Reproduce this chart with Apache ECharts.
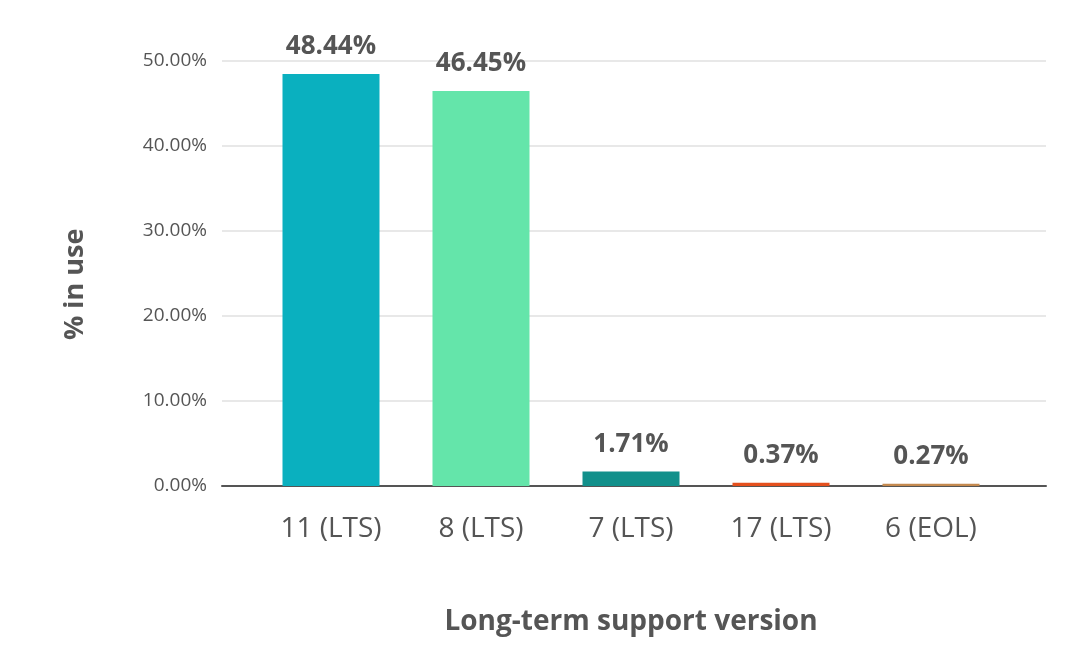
<!DOCTYPE html>
<html>
<head>
<meta charset="utf-8">
<script src="https://cdn.jsdelivr.net/npm/echarts@6/dist/echarts.min.js"></script>
<style>
  html, body { margin: 0; padding: 0; background: #fff; }
  #chart { width: 1077px; height: 661px; }
</style>
</head>
<body>
<div id="chart"></div>
<script>
// 版本与占比
const categories = ['11 (LTS)', '8 (LTS)', '7 (LTS)', '17 (LTS)', '6 (EOL)']
const shares = [48.44, 46.45, 1.71, 0.37, 0.27]
const yTicks = [0, 10, 20, 30, 40, 50]

const barColors = ['#0ab0bf', '#64e5aa', '#12908b', '#e4501e', '#c4894f']
const font = '"Open Sans", "Noto Sans", sans-serif'

const myChart = echarts.init(document.getElementById('chart'))

const options = {
  backgroundColor: '#fff',
  textStyle: { fontFamily: font },
  grid: [
    // 外层：网格线与坐标轴线
    { left: 222, right: 31, top: 60.7, bottom: 175 },
    // 内层：柱子与类目标签
    { left: 256, right: 71, top: 60.7, bottom: 175 }
  ],
  xAxis: [
    {
      gridIndex: 0,
      type: 'value',
      min: 0,
      max: 1,
      axisLine: { show: true, lineStyle: { color: '#555', width: 2 } },
      axisTick: { show: false },
      axisLabel: { show: false },
      splitLine: { show: false }
    },
    {
      gridIndex: 1,
      type: 'category',
      data: categories,
      axisLine: { show: false },
      axisTick: { show: false },
      axisLabel: { color: '#555', fontSize: 28, margin: 29, fontFamily: font },
      name: 'Long-term support version',
      nameLocation: 'middle',
      nameGap: 122,
      nameTextStyle: { color: '#555', fontSize: 28, fontWeight: 'bold', fontFamily: font }
    }
  ],
  yAxis: [
    {
      gridIndex: 0,
      type: 'value',
      min: yTicks[0],
      max: yTicks[yTicks.length - 1],
      interval: yTicks[1] - yTicks[0],
      axisLine: { show: false },
      axisTick: { show: false },
      axisLabel: {
        color: '#555',
        fontSize: 19,
        margin: 15,
        fontFamily: font,
        formatter: v => v.toFixed(2) + '%'
      },
      splitLine: { lineStyle: { color: '#e0e0e0', width: 1.5 } },
      name: '% in use',
      nameLocation: 'middle',
      nameGap: 133,
      nameTextStyle: {
        color: '#555',
        fontSize: 27,
        fontWeight: 'bold',
        fontFamily: font,
        padding: [0, 22, 0, 0]
      }
    },
    {
      gridIndex: 1,
      type: 'value',
      min: yTicks[0],
      max: yTicks[yTicks.length - 1],
      show: false
    }
  ],
  series: [{
    type: 'bar',
    xAxisIndex: 1,
    yAxisIndex: 1,
    barWidth: 97,
    data: shares.map((v, i) => ({
      value: v,
      itemStyle: { color: barColors[i] }
    })),
    label: {
      show: true,
      position: 'top',
      distance: 14,
      color: '#555',
      fontSize: 26,
      fontWeight: 'bold',
      fontFamily: font,
      formatter: p => p.value.toFixed(2) + '%'
    }
  }]
}

myChart.setOption(options)
</script>
</body>
</html>
